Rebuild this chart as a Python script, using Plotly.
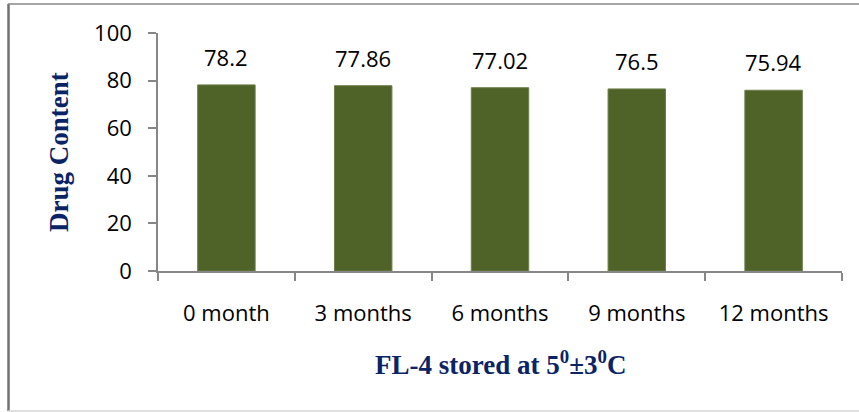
import plotly.graph_objects as go

# Stability data for formulation FL-4 stored at 5±3 °C
periods = ["0 month", "3 months", "6 months", "9 months", "12 months"]
drug_content = [78.2, 77.86, 77.02, 76.5, 75.94]
y_ticks = [0, 20, 40, 60, 80, 100]

FIG_W, FIG_H = 859, 412
M_L, M_R, M_T, M_B = 158, 17, 33, 141
PW = FIG_W - M_L - M_R
PH = FIG_H - M_T - M_B


def px_x(p):
    return (p - M_L) / PW


def px_y(p):
    return (FIG_H - M_B - p) / PH


AXIS_GREY = "#878787"
TITLE_BLUE = "#0B2465"
TICK_FONT = dict(family="Open Sans", size=22, color="#000000")
TITLE_FONT = dict(family="Liberation Serif", size=27, color=TITLE_BLUE)

fig = go.Figure(
    go.Bar(
        x=periods,
        y=drug_content,
        marker=dict(color="#4F6228", line=dict(color="#6E7F4B", width=1)),
        width=0.42,
        hoverinfo="x+y",
    )
)

# value labels above each bar
for cat, val in zip(periods, drug_content):
    fig.add_annotation(
        x=cat, y=val, xref="x", yref="y",
        text=f"{val:g}", showarrow=False,
        yanchor="middle", yshift=28,
        font=TICK_FONT,
    )

# axis titles
fig.add_annotation(
    x=px_x(59), y=0.5, xref="paper", yref="paper",
    text="<b>Drug Content</b>", textangle=-90, showarrow=False,
    xanchor="center", yanchor="middle", font=TITLE_FONT,
)
fig.add_annotation(
    x=0.5, y=px_y(363), xref="paper", yref="paper",
    text="<b>FL-4 stored at 5<sup>0</sup>±3<sup>0</sup>C</b>", showarrow=False,
    xanchor="center", yanchor="middle", font=TITLE_FONT,
)

# chart frame
fig.add_shape(type="line", xref="paper", yref="paper",
              x0=px_x(8.5), x1=px_x(8.5), y0=px_y(4), y1=px_y(411),
              line=dict(color="#707070", width=2.5))
fig.add_shape(type="line", xref="paper", yref="paper",
              x0=px_x(8), x1=px_x(860), y0=px_y(4), y1=px_y(4),
              line=dict(color="#888888", width=1.5))
fig.add_shape(type="line", xref="paper", yref="paper",
              x0=px_x(8), x1=px_x(860), y0=px_y(411), y1=px_y(411),
              line=dict(color="#D6D6D6", width=1.5))

fig.update_layout(
    width=FIG_W, height=FIG_H,
    margin=dict(l=M_L, r=M_R, t=M_T, b=M_B, pad=0),
    paper_bgcolor="#FFFFFF", plot_bgcolor="#FFFFFF",
    showlegend=False,
    xaxis=dict(
        type="category",
        showline=True, linecolor=AXIS_GREY, linewidth=1.5,
        ticks="outside", tickson="boundaries", ticklen=8,
        tickcolor=AXIS_GREY, tickwidth=1.5,
        tickfont=TICK_FONT, ticklabelstandoff=22,
        showgrid=False, zeroline=False,
        range=[-0.5, 4.5],
    ),
    yaxis=dict(
        range=[0, 100], tickvals=y_ticks,
        showline=True, linecolor=AXIS_GREY, linewidth=1.5,
        ticks="outside", ticklen=8, tickcolor=AXIS_GREY, tickwidth=1.5,
        tickfont=TICK_FONT, ticklabelstandoff=12,
        showgrid=False, zeroline=False,
    ),
)

fig.write_html("out.html")
